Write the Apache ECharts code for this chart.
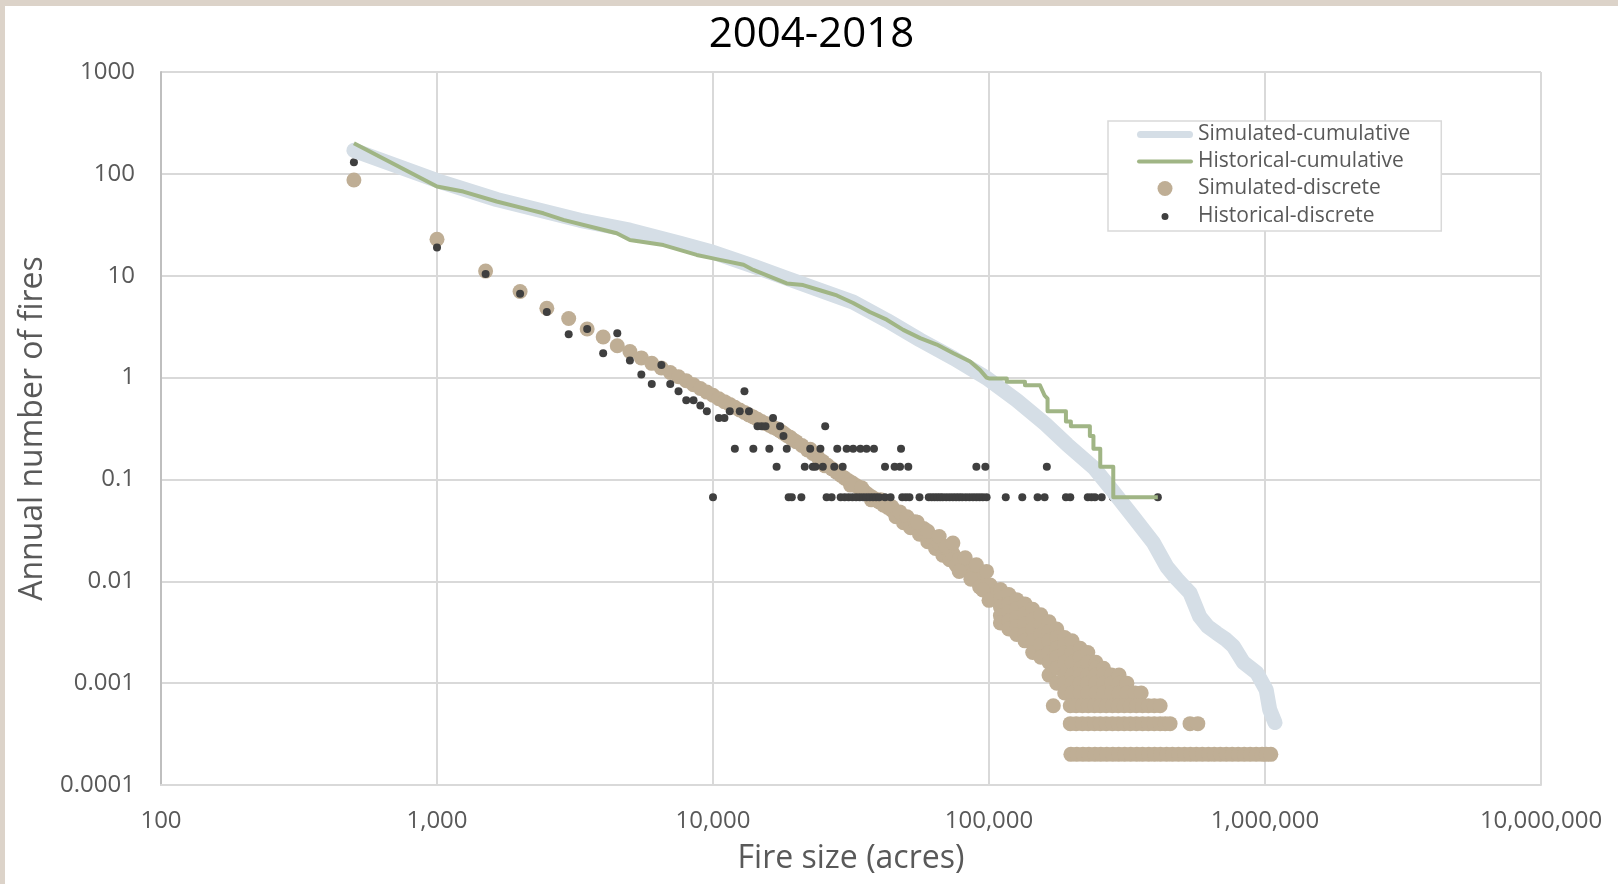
<!DOCTYPE html>
<html>
<head>
<meta charset="utf-8">
<script src="https://cdn.jsdelivr.net/npm/echarts@6/dist/echarts.min.js"></script>
<style>
html,body{margin:0;padding:0;width:1618px;height:884px;background:#dcd3c9;overflow:hidden;}
#chart{position:absolute;left:5px;top:6px;width:1613px;height:878px;background:#ffffff;}
</style>
</head>
<body>
<div id="chart"></div>
<script>
// ---------- tick labels ----------
const xTickLabels = ['100','1,000','10,000','100,000','1,000,000','10,000,000'];
const yTickLabels = ['0.0001','0.001','0.01','0.1','1','10','100','1000'];

// ---------- Simulated-cumulative (acres, fires/yr) ----------
const simCum = [[500,170],[1000,86],[1645,56],[3300,35],[5000,28],[7600,20.8],[10000,17],[14000,12.4],[18500,9.45],[32200,5.5],[42600,3.65],[56300,2.34],[74300,1.55],[98000,0.99],[126000,0.6],[160000,0.35],[192000,0.22],[240000,0.13],[281000,0.077],[333000,0.043],[394000,0.024],[440000,0.014],[480000,0.0105],[535000,0.0077],[580000,0.0045],[620000,0.0036],[668000,0.0031],[720000,0.0027],[768000,0.0023],[835000,0.0016],[934000,0.00126],[1010000,0.00086],[1040000,0.00055],[1087000,0.00041]];

// ---------- Historical-cumulative ----------
const histCum = [[500,200],[1000,75],[1245,67],[1645,53.5],[2170,44.3],[2430,41],[2870,35.3],[3790,29.2],[4480,26.1],[5000,22.4],[6610,20],[8730,16],[10000,14.8],[10600,14.3],[12900,12.8],[14000,11.4],[18500,8.4],[21200,8.1],[24400,7.2],[28100,6.4],[32200,5.4],[37000,4.4],[42600,3.7],[48900,2.94],[56300,2.44],[64700,2.11],[74300,1.73],[85400,1.44],[92700,1.19],[98000,1.0],[100000,0.98],[116000,0.98],[116000,0.91],[135000,0.91],[135000,0.84],[153000,0.84],[159000,0.667],[163000,0.62],[163000,0.467],[190000,0.467],[190000,0.37],[198000,0.37],[198000,0.333],[232000,0.333],[232000,0.267],[239000,0.267],[239000,0.2],[253000,0.2],[253000,0.133],[282000,0.133],[282000,0.0667],[409000,0.0667]];

// ---------- Simulated-discrete ----------
const simDiscHead = [[500,87],[1000,22.8],[1500,11.1],[2000,7.0],[2500,4.8],[3000,3.8],[3500,3.0],[4000,2.5],[4500,2.05],[5000,1.8],[5500,1.56],[6000,1.38],[6500,1.24],[7000,1.12],[7500,1.02],[8000,0.93],[8500,0.85],[9000,0.78],[9500,0.72],[10000,0.67]];
const simDiscBand = [[10500,0.62],[11000,0.58],[11500,0.545],[12000,0.51],[12500,0.48],[13000,0.455],[13500,0.43],[14000,0.41],[14500,0.39],[15000,0.37],[15500,0.355],[16000,0.34],[16500,0.325],[17000,0.315],[17500,0.30],[18000,0.285],[18500,0.27],[19000,0.26],[19500,0.245],[20000,0.235],[21000,0.215],[22000,0.195],[23000,0.18],[24000,0.165],[25000,0.15],[26000,0.138],[27000,0.127],[28000,0.118],[29000,0.11],[30000,0.103],[31000,0.097],[32000,0.092],[33000,0.087],[34000,0.082],[35000,0.078],[36000,0.073],[37000,0.069],[38000,0.066],[39000,0.063],[40000,0.06],[41500,0.056],[43000,0.053],[44500,0.05],[46000,0.047],[47500,0.044],[49000,0.041],[50500,0.039],[52000,0.037],[54000,0.035],[56000,0.032],[58000,0.03],[60000,0.027],[62000,0.025],[64000,0.023],[66000,0.0215],[68000,0.02],[70000,0.019],[72000,0.018],[74000,0.017],[76000,0.016],[78000,0.015],[80000,0.0145],[83000,0.0135],[86000,0.0125],[89000,0.0115],[92000,0.0105],[95000,0.0097],[98000,0.009],[101000,0.0083],[104000,0.0077],[107000,0.0071]];
const simDiscBandSpread = [[22500,0.198],[25500,0.136],[28500,0.118],[31500,0.088],[34500,0.083],[37500,0.063],[40500,0.063],[44500,0.054],[46000,0.043],[47500,0.048],[49000,0.0375],[50500,0.043],[52000,0.0335],[54000,0.0385],[56000,0.029],[58000,0.033],[60000,0.0245],[62000,0.0275],[64000,0.021],[66000,0.0235],[68000,0.018],[70000,0.021],[72000,0.0163],[74000,0.0187],[76000,0.0145],[78000,0.0165],[80000,0.013],[83000,0.0149],[86000,0.0113],[89000,0.0127],[92000,0.0095],[95000,0.0107],[98000,0.0081],[101000,0.0092],[104000,0.007],[107000,0.0079]];
const simDiscScatter = [[55000,0.038],[60000,0.031],[66000,0.0275],[70000,0.022],[74000,0.0237],[78000,0.0125],[82000,0.017],[86000,0.0105],[90000,0.0145],[92500,0.0088],[95000,0.0082],[98000,0.0125],[100000,0.0065]];
const simDiscCloud = [
  [110000,[0.0083,0.0068,0.0056,0.0046,0.0039]],
  [118000,[0.0074,0.006,0.005,0.0041,0.0034]],
  [126000,[0.0066,0.0054,0.0044,0.0036,0.003]],
  [135000,[0.006,0.0048,0.0038,0.003,0.0026]],
  [144000,[0.0053,0.0042,0.0034,0.0026,0.002]],
  [154000,[0.0047,0.0038,0.003,0.0024,0.0018]],
  [165000,[0.004,0.0032,0.0026,0.002,0.0016,0.0012]],
  [176000,[0.0034,0.0028,0.0022,0.0018,0.0014,0.001]],
  [188000,[0.0028,0.0024,0.002,0.0016,0.0012,0.001,0.0008]],
  [200000,[0.0026,0.002,0.0016,0.0012,0.001,0.0008]],
  [214000,[0.0022,0.0018,0.0014,0.0012,0.001,0.0008]],
  [228000,[0.002,0.0016,0.0012,0.001,0.0008]],
  [244000,[0.0016,0.0014,0.0012,0.001,0.0008]],
  [260000,[0.0014,0.0012,0.001,0.0008]],
  [278000,[0.0012,0.001,0.0008]],
  [296000,[0.0012,0.001,0.0008]],
  [316000,[0.001,0.0008]],
  [338000,[0.0008]],
  [356000,[0.0008]]
];
const simRow0006X = [171000,197000,207000,218000,229000,241000,253000,266000,280000,294000,309000,325000,342000,360000,378000,397000,417000];
const simRow0004X = [197000,207000,218000,229000,241000,253000,266000,280000,294000,309000,325000,342000,360000,378000,397000,417000,435000,453000,535000,571000];
const simRow0002X = [198000,208000,219000,230000,242000,254000,267000,281000,295000,310000,326000,343000,360000,379000,398000,418000,440000,462000,486000,511000,537000,564000,593000,624000,655000,689000,724000,761000,800000,841000,884000,929000,976000,1010000,1050000];

// ---------- Historical-discrete ----------
const histDiscPts = [[500,130],[1000,18.9],[1500,10.4],[2000,6.67],[2500,4.4],[3000,2.67],[3500,3.0],[4000,1.73],[4500,2.73],[5000,1.47],[5500,1.07],[6000,0.867],[6500,1.33],[7000,0.867],[7500,0.733],[8000,0.6],[8500,0.6],[9000,0.533],[9500,0.467],[10500,0.4],[11000,0.4],[11500,0.467],[12000,0.2],[12500,0.467],[13000,0.733],[13500,0.467],[14000,0.2],[14500,0.333],[15000,0.333],[15500,0.333],[16000,0.2],[16500,0.4],[17000,0.133],[17500,0.333],[18000,0.267],[18500,0.2],[21500,0.133],[22500,0.2],[23000,0.133],[23500,0.133],[24500,0.2],[25000,0.133],[25500,0.333],[27500,0.133],[28200,0.2],[29500,0.133],[30500,0.2],[32200,0.2],[34200,0.2],[36000,0.2],[38300,0.2],[42000,0.133],[45500,0.133],[47600,0.133],[48000,0.2],[51000,0.133],[90000,0.133],[97000,0.133],[162000,0.133]];
const histRowY = 0.0667;
const histRowX = [10000,18800,19300,20900,25800,26900,29000,30000,31000,32000,33000,34000,35000,36000,37000,38000,39000,40000,42000,44000,48500,50000,51500,56000,60500,62000,63500,65000,66500,68000,70000,72000,74000,76000,78000,80000,82500,85000,87500,90000,92500,95000,98000,115000,132000,150000,159000,190000,197000,228000,235000,242000,256000,281000,409000];

// ---------- assemble ----------
const simDisc = [].concat(simDiscHead, simDiscBand, simDiscBandSpread, simDiscScatter);
simDiscCloud.forEach(c => c[1].forEach(y => simDisc.push([c[0], y])));
simRow0006X.forEach(x => simDisc.push([x, 0.0006]));
simRow0004X.forEach(x => simDisc.push([x, 0.0004]));
simRow0002X.forEach(x => simDisc.push([x, 0.0002]));
const histDisc = histDiscPts.concat(histRowX.map(x => [x, histRowY]));

const C_SIMCUM = '#d5dee6', C_HISTCUM = '#a0b585', C_SIMD = '#bfae95', C_HISTD = '#3f3f3f';
const FONT = 'Open Sans';
const chart = echarts.init(document.getElementById('chart'), null, {renderer: 'canvas'});
chart.setOption({
  animation: false,
  backgroundColor: '#ffffff',
  title: {
    text: '2004-2018', left: 'center', top: 3,
    textStyle: {fontFamily: FONT, fontSize: 42, fontWeight: 'normal', color: '#000000'}
  },
  grid: {left: 156, top: 66, right: 77, bottom: 99, containLabel: false},
  legend: {
    orient: 'vertical', left: 1103, top: 115,
    itemWidth: 56, itemHeight: 15, itemGap: 6, symbolKeepAspect: true,
    padding: [3, 31, 3, 29],
    borderColor: '#d9d9d9', borderWidth: 1.5, backgroundColor: '#ffffff',
    textStyle: {fontFamily: FONT, fontSize: 21, color: '#595959'},
    data: [
      {name: 'Simulated-cumulative', icon: 'path://M3.5,0H52.5A3.5,3.5,0,0,1,52.5,7H3.5A3.5,3.5,0,0,1,3.5,0Z', itemStyle: {color: C_SIMCUM, borderWidth: 0}},
      {name: 'Historical-cumulative', icon: 'path://M2,0H54A2,2,0,0,1,54,4H2A2,2,0,0,1,2,0Z', itemStyle: {color: C_HISTCUM, borderWidth: 0}},
      {name: 'Simulated-discrete', icon: 'circle', itemStyle: {color: C_SIMD, borderWidth: 0}},
      {name: 'Historical-discrete', icon: 'circle', itemStyle: {color: C_HISTD, borderColor: '#ffffff', borderWidth: 8}}
    ]
  },
  xAxis: {
    type: 'log', logBase: 10, min: 100, max: 10000000, splitNumber: 5,
    name: 'Fire size (acres)', nameLocation: 'middle', nameGap: 58,
    nameTextStyle: {fontFamily: FONT, fontSize: 32, color: '#595959'},
    axisLine: {show: true, lineStyle: {color: '#d9d9d9', width: 2}},
    axisTick: {show: false},
    splitLine: {show: true, lineStyle: {color: '#d9d9d9', width: 2}},
    axisLabel: {
      fontFamily: FONT, fontSize: 24, color: '#595959', margin: 24,
      formatter: v => xTickLabels[Math.round(Math.log10(v)) - 2]
    }
  },
  yAxis: {
    type: 'log', logBase: 10, min: 0.0001, max: 1000, splitNumber: 7,
    name: 'Annual number of fires', nameLocation: 'middle', nameGap: 110, nameRotate: 90,
    nameTextStyle: {fontFamily: FONT, fontSize: 32, color: '#595959'},
    axisLine: {show: true, lineStyle: {color: '#bfbfbf', width: 2}},
    axisTick: {show: false},
    splitLine: {show: true, lineStyle: {color: '#d9d9d9', width: 2}},
    axisLabel: {
      fontFamily: FONT, fontSize: 24, color: '#595959', margin: 26,
      formatter: v => yTickLabels[Math.round(Math.log10(v)) + 4]
    }
  },
  series: [
    {name: 'Simulated-cumulative', type: 'line', data: simCum, symbol: 'none', showSymbol: false,
     lineStyle: {color: C_SIMCUM, width: 15, cap: 'round', join: 'round'}, itemStyle: {color: C_SIMCUM}},
    {name: 'Historical-cumulative', type: 'line', data: histCum, symbol: 'none', showSymbol: false,
     lineStyle: {color: C_HISTCUM, width: 4, join: 'round'}, itemStyle: {color: C_HISTCUM}},
    {name: 'Simulated-discrete', type: 'scatter', data: simDisc, symbol: 'circle', symbolSize: 15,
     itemStyle: {color: C_SIMD, opacity: 1}},
    {name: 'Historical-discrete', type: 'scatter', data: histDisc, symbol: 'circle', symbolSize: 8,
     itemStyle: {color: C_HISTD, opacity: 1}}
  ]
});
</script>
</body>
</html>
